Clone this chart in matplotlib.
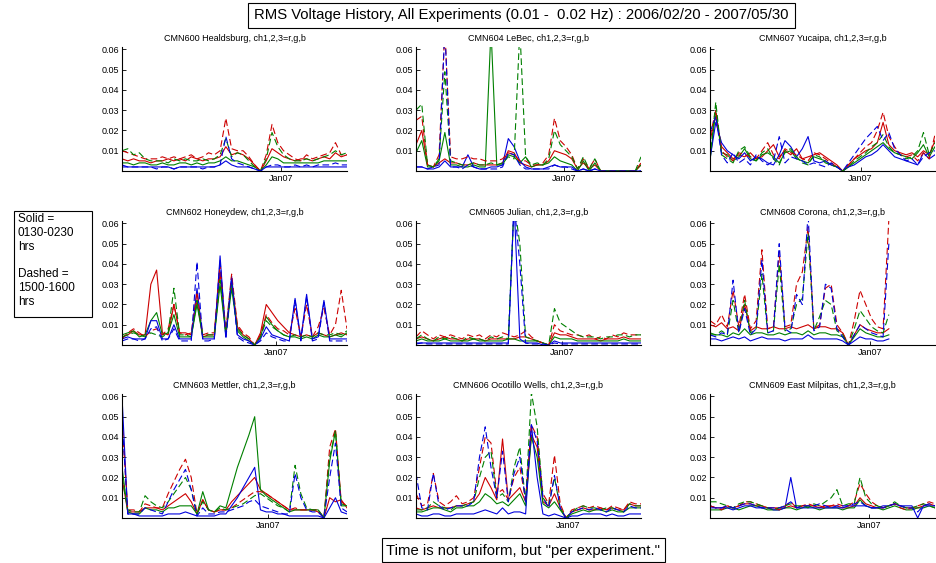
import numpy as np
import matplotlib.pyplot as plt
from matplotlib.patches import Rectangle

plt.rcParams["font.family"] = ["Liberation Sans", "DejaVu Sans"]

# RMS voltage per experiment, in mV (ch1=r, ch2=g, ch3=b)
# suffix 1 = 0130-0230 hrs (solid), suffix 2 = 1500-1600 hrs (dashed)

# CMN600 Healdsburg
hb_r1 = [6,5,6,5,5,4,5,5,6,5,6,5,7,6,5,6,6,7,12,8,9,8,6,3,0,5,11,9,7,6,5,6,6,5,6,7,6,9,7,8]
hb_g1 = [4,4,3,4,4,3,3,4,3,3,4,4,3,4,3,4,4,5,7,5,5,4,3,2,0,3,7,6,4,4,4,4,4,4,4,5,5,5,5,5]
hb_b1 = [2,2,2,2,2,2,2,2,2,1,2,2,2,2,2,2,2,3,5,3,2,2,2,1,0,2,2,2,2,2,2,2,2,2,2,2,2,2,2,2]
hb_r2 = [10,9,8,7,6,6,6,7,6,7,6,7,8,6,7,9,8,10,26,11,10,10,7,3,0,8,23,14,10,8,6,5,8,6,7,8,9,14,8,8]
hb_g2 = [10,11,8,9,6,5,5,5,4,6,5,6,5,5,6,5,6,8,16,7,9,8,5,2,0,6,19,12,8,6,5,5,6,5,6,7,8,10,8,9]
hb_b2 = [3,2,2,2,2,2,1,2,2,1,2,2,2,2,1,2,2,3,17,6,4,3,2,1,0,2,3,3,2,2,3,2,3,2,3,3,3,4,3,3]

# CMN604 LeBec
lb_r1 = [13,20,3,2,4,6,4,4,3,3,4,3,3,3,3,4,10,9,4,3,2,3,3,5,10,9,8,6,1,4,1,3,0,0,0,0,0,0,0,3]
lb_g1 = [9,15,2,2,5,19,3,3,2,2,3,2,2,70,3,3,8,7,4,7,2,3,3,4,7,5,4,3,0,5,0,4,0,0,0,0,0,0,0,3]
lb_b1 = [2,2,1,1,2,5,2,2,2,8,2,1,1,2,2,3,16,12,5,2,1,1,1,2,3,2,2,2,0,1,0,1,0,0,0,0,0,0,0,0]
lb_r2 = [25,27,3,2,8,70,7,6,6,7,6,6,5,5,5,6,9,8,5,5,3,3,4,8,26,15,12,8,1,6,1,6,0,0,0,0,0,0,0,4]
lb_g2 = [30,33,3,2,6,49,5,4,3,3,4,3,3,4,3,4,7,6,70,7,3,4,3,6,20,13,10,7,1,7,1,6,0,0,0,0,0,0,0,7]
lb_b2 = [2,2,1,2,3,70,2,2,1,3,2,1,1,1,1,2,9,8,3,1,1,1,1,1,3,2,2,1,0,1,0,1,0,0,0,0,0,0,0,0]

# CMN607 Yucaipa
yu_r1 = [15,27,12,9,6,8,7,9,6,7,10,13,7,10,8,11,6,7,8,9,7,5,3,0,3,6,8,10,11,14,24,13,10,9,8,9,7,10,8,15]
yu_g1 = [5,30,9,8,5,7,11,6,5,8,9,7,4,9,10,6,5,4,7,6,5,3,2,0,2,4,6,8,10,12,14,11,9,8,7,6,9,13,7,12]
yu_b1 = [6,24,14,10,8,6,9,5,7,6,4,3,8,15,12,7,11,17,5,4,5,3,2,0,2,3,5,7,8,10,13,10,7,6,5,4,3,9,6,8]
yu_r2 = [17,30,10,7,5,9,8,7,6,10,14,8,6,11,9,8,6,5,9,8,6,4,2,0,3,6,9,12,14,20,29,17,12,8,7,8,5,9,6,18]
yu_g2 = [6,34,8,6,4,10,12,7,5,9,11,6,3,10,11,7,4,3,8,7,4,3,2,0,2,5,7,9,12,14,18,12,9,8,6,7,10,19,8,14]
yu_b2 = [19,27,8,4,9,4,6,3,8,5,3,5,17,4,7,6,5,3,4,3,2,4,2,0,4,8,12,16,19,22,15,19,11,8,5,6,3,7,9,10]

# CMN602 Honeydew
hd_r1 = [4,5,7,5,5,30,37,6,5,20,6,6,5,22,4,5,5,36,6,32,9,5,3,0,6,20,16,12,9,6,5,4,5,4,6,5,4,5,6,5]
hd_g1 = [5,6,7,4,5,12,16,5,6,15,4,4,4,20,4,4,4,30,5,28,7,4,2,0,4,14,10,7,5,4,4,3,4,3,5,4,4,5,4,6]
hd_b1 = [3,4,3,3,3,12,12,3,3,10,3,3,3,28,3,3,3,44,4,34,5,3,2,0,3,9,5,4,3,2,23,3,25,3,4,22,3,3,3,3]
hd_r2 = [3,6,8,6,4,7,8,5,8,20,6,5,6,26,5,6,6,40,7,35,10,6,4,0,5,15,11,8,7,5,18,4,20,4,9,18,5,10,27,8]
hd_g2 = [4,5,6,5,4,6,5,4,6,28,5,5,4,22,5,5,5,32,6,30,8,5,3,0,4,12,9,7,5,4,5,4,5,4,6,5,5,6,5,7]
hd_b2 = [2,3,3,2,3,8,9,2,3,8,2,2,2,41,2,2,3,42,3,33,4,2,1,0,2,6,4,3,2,2,22,2,24,2,3,21,2,2,2,2]

# CMN605 Julian
ju_r1 = [3,4,3,2,3,4,3,3,2,3,3,3,2,3,3,3,3,3,4,4,3,2,1,0,6,5,5,4,3,3,3,3,2,3,3,3,4,3,3,3]
ju_g1 = [2,3,2,2,2,3,2,2,2,2,3,2,2,2,2,2,3,3,2,2,2,2,1,0,4,3,3,3,2,2,2,2,2,2,2,2,3,2,2,2]
ju_b1 = [1,1,1,1,1,1,1,1,1,1,1,1,1,1,1,1,1,70,3,1,1,1,0,0,2,1,1,1,1,1,1,1,1,1,1,1,1,1,1,1]
ju_r2 = [4,7,5,3,5,4,5,4,3,5,4,5,3,5,4,6,5,4,5,7,4,2,1,0,10,7,6,5,5,4,5,3,4,3,5,4,6,5,5,5]
ju_g2 = [3,5,3,2,4,3,4,3,2,4,3,3,2,4,3,4,3,70,50,4,3,2,1,0,18,11,9,7,5,4,4,4,3,4,4,5,5,4,5,5]
ju_b2 = [0.5,1,0.5,0.5,0.5,0.5,0.5,0.5,0.5,0.5,0.5,0.5,0.5,0.5,0.5,0.5,0.5,70,40,1,0.5,0.5,0.5,0,
         1,0.5,0.5,0.5,0.5,0.5,0.5,0.5,0.5,0.5,0.5,0.5,0.5,0.5,0.5,0.5]

# CMN608 Corona (fewer experiments)
co_r1 = [10,9,11,8,9,7,20,7,9,8,8,9,8,8,9,8,9,10,8,9,9,8,8,6,0,5,10,8,7,6,6,8]
co_g1 = [5,5,5,4,6,5,8,5,6,6,5,5,6,5,6,6,5,7,5,6,6,5,5,4,0,4,8,6,5,4,4,5]
co_b1 = [3,3,2,3,4,3,4,2,3,4,3,3,3,2,3,3,3,5,3,3,3,3,3,2,0,2,4,3,3,2,2,3]
co_r2 = [12,10,15,9,27,9,25,8,12,47,8,9,46,9,10,30,36,58,8,10,28,30,10,6,0,12,27,20,13,9,8,62]
co_g2 = [6,5,7,5,22,6,22,6,8,35,6,7,40,7,8,20,23,55,7,14,22,20,7,5,0,8,17,13,9,7,6,15]
co_b2 = [5,4,6,5,32,6,18,5,8,42,6,7,50,8,6,25,20,65,7,9,30,28,8,4,0,5,10,8,6,5,4,50]

# CMN603 Mettler
me_r1 = [20,3,3,3,5,5,5,4,6,8,10,12,8,2,9,4,3,4,4,8,11,14,17,20,14,12,10,8,6,4,4,4,4,4,3,0,10,8,9,5]
me_g1 = [25,3,2,2,5,4,4,3,5,5,6,6,6,2,13,4,3,6,5,15,25,33,41,50,14,11,9,7,5,3,4,4,4,4,4,0,28,43,7,6]
me_b1 = [60,2,2,1,1,1,1,1,2,2,2,3,2,1,1,1,1,2,2,6,10,15,20,25,4,3,3,2,2,1,1,1,1,1,1,0,5,10,3,2]
me_r2 = [48,4,4,3,7,6,5,5,12,18,24,29,20,2,9,4,3,4,4,5,7,9,11,13,13,12,10,8,6,4,5,4,4,4,4,0,35,44,8,6]
me_g2 = [20,4,3,3,11,8,6,5,8,12,16,20,14,2,8,4,3,5,4,5,6,7,9,11,12,10,8,6,5,3,26,12,5,4,4,0,30,43,6,6]
me_b2 = [49,2,2,2,5,4,3,2,8,14,19,24,14,1,5,2,2,3,3,4,5,6,8,9,6,5,4,3,2,2,22,10,4,3,3,0,20,37,5,3]

# CMN606 Ocotillo Wells
ow_r1 = [5,4,5,6,5,5,5,6,6,7,8,12,20,15,9,39,9,12,15,8,41,35,8,6,12,5,0,3,4,5,4,4,5,4,5,4,4,7,6,6]
ow_g1 = [3,3,4,5,5,4,3,5,5,6,6,8,12,10,7,8,6,9,12,6,40,30,7,5,8,4,0,2,3,4,3,4,4,3,4,3,3,5,5,5]
ow_b1 = [2,1,1,2,2,1,1,2,2,2,2,3,4,3,2,5,2,3,3,2,46,20,2,1,2,1,0,1,1,2,2,2,2,1,2,1,1,2,2,2]
ow_r2 = [12,6,7,22,8,6,8,11,7,8,10,25,40,37,12,14,9,20,25,9,46,40,12,7,31,7,0,4,5,6,5,6,5,4,6,5,4,8,7,7]
ow_g2 = [4,4,5,8,6,5,4,6,6,7,8,20,30,33,10,12,8,25,35,8,62,45,10,6,20,5,0,3,5,6,5,5,4,5,5,4,3,7,6,6]
ow_b2 = [22,5,4,22,6,4,5,6,6,6,8,30,45,25,10,33,8,22,30,8,46,38,10,5,21,5,0,3,4,5,4,5,4,3,5,4,3,6,5,5]

# CMN609 East Milpitas
em_r1 = [6,5,5,6,5,6,7,7,6,6,5,5,5,5,6,5,6,6,6,5,6,6,6,5,5,6,10,7,6,5,5,6,7,6,5,5,5,6,7,6]
em_g1 = [4,4,4,5,5,4,5,6,6,5,4,4,4,5,5,4,5,6,5,4,5,5,5,4,5,5,9,6,5,5,4,5,6,5,4,4,5,5,6,5]
em_b1 = [6,5,5,5,4,5,6,6,5,5,5,4,4,5,20,5,5,5,5,5,5,5,5,5,6,6,6,6,5,5,6,6,7,6,6,6,0,6,6,6]
em_r2 = [6,5,4,6,5,6,8,8,7,6,5,5,4,6,8,5,6,7,6,6,5,6,7,6,6,8,17,12,8,6,5,6,7,5,4,5,6,7,8,7]
em_g2 = [8,8,7,6,5,7,8,8,7,6,5,4,5,6,7,6,6,5,7,6,8,10,14,6,7,7,20,10,7,6,5,6,8,6,5,5,6,7,6,5]
em_b2 = [5,5,5,6,5,6,7,7,6,5,5,5,5,6,8,5,6,6,6,7,6,5,6,6,6,7,8,6,5,5,5,6,7,6,5,5,3,6,7,6]

stations = ["CMN600 Healdsburg", "CMN604 LeBec", "CMN607 Yucaipa",
            "CMN602 Honeydew", "CMN605 Julian", "CMN608 Corona",
            "CMN603 Mettler", "CMN606 Ocotillo Wells", "CMN609 East Milpitas"]
series = [
    (hb_r1, hb_g1, hb_b1, hb_r2, hb_g2, hb_b2),
    (lb_r1, lb_g1, lb_b1, lb_r2, lb_g2, lb_b2),
    (yu_r1, yu_g1, yu_b1, yu_r2, yu_g2, yu_b2),
    (hd_r1, hd_g1, hd_b1, hd_r2, hd_g2, hd_b2),
    (ju_r1, ju_g1, ju_b1, ju_r2, ju_g2, ju_b2),
    (co_r1, co_g1, co_b1, co_r2, co_g2, co_b2),
    (me_r1, me_g1, me_b1, me_r2, me_g2, me_b2),
    (ow_r1, ow_g1, ow_b1, ow_r2, ow_g2, ow_b2),
    (em_r1, em_g1, em_b1, em_r2, em_g2, em_b2),
]
# experiment index of the first Jan 2007 run at each station
jan07 = [27.5, 25.6, 26.1, 26.7, 25.3, 27.7, 25.3, 26.3, 27.6]
yticks = [0.01, 0.02, 0.03, 0.04, 0.05, 0.06]

colors = ["#cc0000", "#008000", "#0000dd"]
W, H = 937, 563
fig = plt.figure(figsize=(W / 100, H / 100), dpi=100)

col_left = [122, 416, 710]
row_base = [171, 345, 518]
aw, ah = 225, 124

for i, name in enumerate(stations):
    r, c = divmod(i, 3)
    ax = fig.add_axes([col_left[c] / W, 1 - row_base[r] / H, aw / W, ah / H])
    for k, vals in enumerate(series[i]):
        y = np.array(vals, dtype=float) / 1000.0
        x = np.arange(len(y))
        ls = "-" if k < 3 else (0, (6, 3))
        ax.plot(x, y, color=colors[k % 3], lw=0.8, ls=ls)
    ax.set_xlim(0, 39)
    ax.set_ylim(0, 0.0612)
    ax.set_yticks(yticks)
    ax.set_yticklabels(["%.2f" % t for t in yticks])
    ax.set_xticks([jan07[i]])
    ax.set_xticklabels(["Jan07"])
    ax.tick_params(direction="in", length=3, width=0.6, labelsize=6.5, pad=2)
    ax.spines["top"].set_visible(False)
    ax.spines["right"].set_visible(False)
    for s in ("left", "bottom"):
        ax.spines[s].set_linewidth(0.8)
    ax.set_title(name + ", ch1,2,3=r,g,b", fontsize=6.5, pad=4)


def boxed_text(x0, y0, x1, y1, txt, tx, ty, **kw):
    fig.patches.append(Rectangle((x0 / W, 1 - y1 / H), (x1 - x0) / W, (y1 - y0) / H,
                                 transform=fig.transFigure, fc="white", ec="black", lw=0.8))
    fig.text(tx / W, 1 - ty / H, txt, **kw)


boxed_text(248, 3, 795, 28,
           "RMS Voltage History, All Experiments (0.01 -  0.02 Hz) : 2006/02/20 - 2007/05/30",
           521, 15.5, ha="center", va="center", fontsize=10.7)
boxed_text(382, 538, 665, 562, "Time is not uniform, but \"per experiment.\"",
           523, 551, ha="center", va="center", fontsize=10.7)
boxed_text(14, 211, 92, 317, "Solid =\n0130-0230\nhrs\n\nDashed =\n1500-1600\nhrs",
           18, 213, ha="left", va="top", fontsize=8.5, linespacing=1.2)

fig.savefig("out.png", dpi=100)
